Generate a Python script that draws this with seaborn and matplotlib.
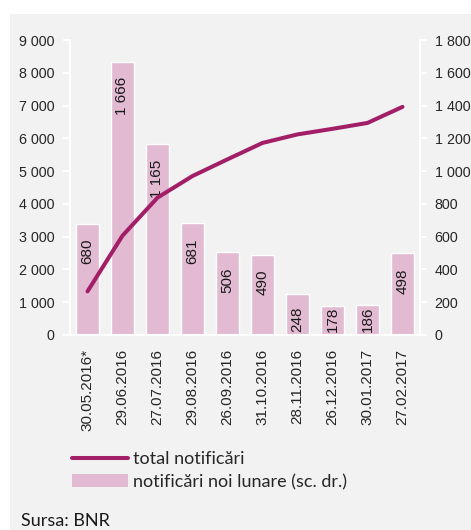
import seaborn as sns
import matplotlib.pyplot as plt
import pandas as pd
import numpy as np
from matplotlib.lines import Line2D
from matplotlib.patches import Patch, Rectangle
from matplotlib.ticker import FuncFormatter, MultipleLocator

# data
dates = ['30.05.2016*', '29.06.2016', '27.07.2016', '29.08.2016', '26.09.2016',
         '31.10.2016', '28.11.2016', '26.12.2016', '30.01.2017', '27.02.2017']
monthly = [680, 1666, 1165, 681, 506, 490, 248, 178, 186, 498]
total = [1330, 3030, 4190, 4850, 5360, 5860, 6120, 6290, 6470, 6960]

df = pd.DataFrame({'data': dates, 'lunare': monthly, 'total': total})

line_color = '#a21f68'
bar_color = '#e2bad2'
bg_color = '#f2f2f2'
narrow = ['Liberation Sans', 'DejaVu Sans']
regular = ['Lato', 'DejaVu Sans']
ytick_size = 10.3
num_size = 11

sns.set_style("white")
plt.rcParams['font.family'] = narrow


def space_thousands(v, pos=None):
    return f"{int(round(v)):,}".replace(",", " ")


fig = plt.figure(figsize=(4.71, 5.30), dpi=100)
fig.patch.set_facecolor('white')
# grey panel behind the chart
fig.patches.append(Rectangle((10 / 471, 0), 1 - 10 / 471, 1 - 14 / 530,
                             transform=fig.transFigure, facecolor=bg_color,
                             edgecolor='none', zorder=-10))

ax = fig.add_axes([70 / 471, 1 - 335 / 530, 350 / 471, 295 / 530])
ax_r = ax.twinx()

# bars on the right scale
sns.barplot(data=df, x='data', y='lunare', ax=ax_r, color=bar_color,
            width=0.66, saturation=1)
# total on the left scale, drawn above the bars
sns.lineplot(data=df, x='data', y='total', ax=ax, color=line_color,
             linewidth=2.9, sort=False)
ax.set_zorder(ax_r.get_zorder() + 1)
ax.patch.set_visible(False)
ax_r.patch.set_visible(False)

ax.set_xlim(-0.5, len(dates) - 0.5)
ax.set_ylim(0, 9000)
ax_r.set_ylim(0, 1800)
ax.yaxis.set_major_locator(MultipleLocator(1000))
ax_r.yaxis.set_major_locator(MultipleLocator(200))
ax.yaxis.set_major_formatter(FuncFormatter(space_thousands))
ax_r.yaxis.set_major_formatter(FuncFormatter(space_thousands))

# category boundaries as x ticks, labels centered under bars
ax.set_xticks(np.arange(len(dates)))
ax.set_xticklabels(dates, rotation=90, va='top', ha='center')
ax.set_xticks(np.arange(len(dates) + 1) - 0.5, minor=True)
ax.tick_params(axis='x', which='major', length=0, pad=10, labelsize=num_size)
ax.tick_params(axis='x', which='minor', length=5, width=1.5, color='white',
               direction='out')
ax_r.tick_params(axis='x', length=0, labelbottom=False)

ax.tick_params(axis='y', length=5, width=1.5, color='white', pad=6,
               labelsize=ytick_size, direction='out')
ax_r.tick_params(axis='y', length=5, width=1.5, color='white', pad=5.5,
                 labelsize=ytick_size, direction='out')

for a in (ax, ax_r):
    a.set_xlabel('')
    a.set_ylabel('')
    a.spines['top'].set_visible(False)
    for s in ('left', 'right', 'bottom'):
        a.spines[s].set_color('white')
        a.spines[s].set_linewidth(1.5)
ax.spines['right'].set_visible(False)
ax_r.spines['left'].set_visible(False)

# value labels inside the bars
for i, v in enumerate(monthly):
    if v > 300:
        ax_r.annotate(space_thousands(v), (i, v), xytext=(0, -11),
                      textcoords='offset points', rotation=90, ha='center',
                      va='top', fontsize=num_size, color='#1a1a1a')
    else:
        ax_r.annotate(space_thousands(v), (i, 0), xytext=(0, 2),
                      textcoords='offset points', rotation=90, ha='center',
                      va='bottom', fontsize=num_size, color='#1a1a1a')

handles = [Line2D([], [], color=line_color, linewidth=2.9),
           Patch(facecolor=bar_color, edgecolor='none')]
fig.legend(handles, ['total notificări', 'notificări noi lunare (sc. dr.)'],
           loc='upper left', bbox_to_anchor=(72 / 471, 1 - 451 / 530),
           frameon=False, handlelength=3.1, handletextpad=0.3,
           labelspacing=0.38, borderpad=0, borderaxespad=0,
           prop={'family': regular, 'size': 13})

fig.text(21 / 471, 1 - 526 / 530, 'Sursa: BNR', family=regular, fontsize=13,
         va='baseline', ha='left', color='#1a1a1a')

fig.savefig('out.png', dpi=100, facecolor=fig.get_facecolor())
